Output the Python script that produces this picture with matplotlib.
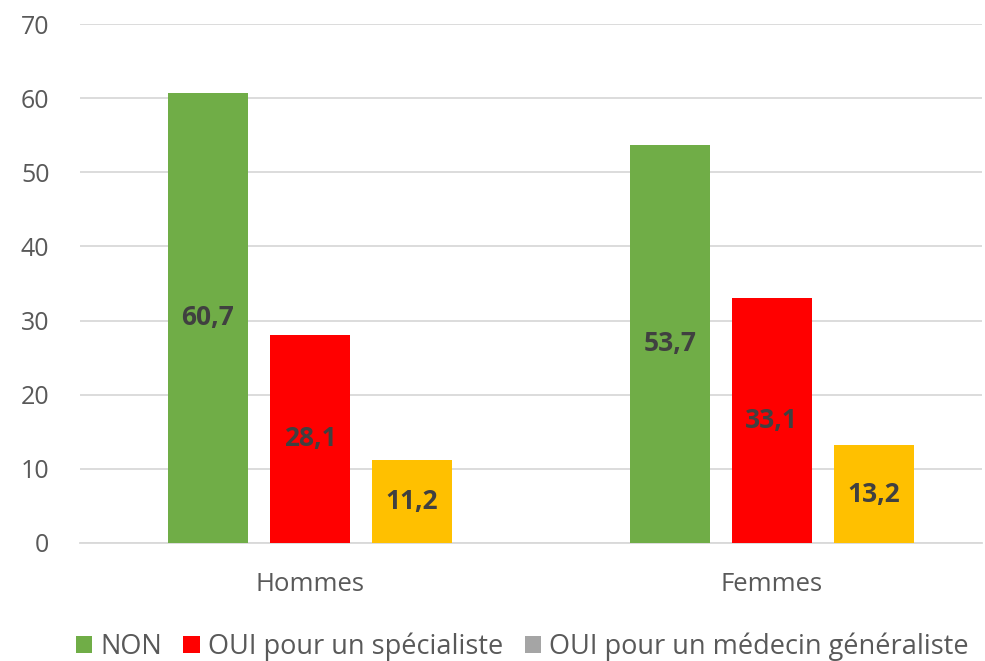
import numpy as np
import matplotlib.pyplot as plt
from matplotlib.patches import Patch

plt.rcParams['font.family'] = ['Open Sans', 'DejaVu Sans']

categories = ['Hommes', 'Femmes']
series = ['NON', 'OUI pour un spécialiste', 'OUI pour un médecin généraliste']
non = [60.7, 53.7]
oui_spec = [28.1, 33.1]
oui_gen = [11.2, 13.2]

bar_colors = ['#70AD47', '#FF0000', '#FFC000']
legend_colors = ['#70AD47', '#FF0000', '#A5A5A5']

fig = plt.figure(figsize=(9.85, 6.61), dpi=100)
ax = fig.add_axes([80 / 985, 1 - 543 / 661, 902 / 985, (543 - 24) / 661])

x = np.arange(len(categories))
width = 0.173
step = 0.221
for i, (vals, col) in enumerate(zip([non, oui_spec, oui_gen], bar_colors)):
    bars = ax.bar(x + (i - 1) * step, vals, width, color=col, zorder=3)
    for b, v in zip(bars, vals):
        ax.text(b.get_x() + b.get_width() / 2, v / 2, f'{v:.1f}'.replace('.', ','),
                ha='center', va='center', fontsize=19, fontweight='bold',
                color='#404040', zorder=4)

ax.set_xlim(-0.498, 0.455 + 1)
ax.set_ylim(0, 70)
ax.set_yticks(range(0, 71, 10))
ax.grid(axis='y', color='#D9D9D9', linewidth=1.3, zorder=0)
ax.set_axisbelow(True)
for s in ['top', 'right', 'left']:
    ax.spines[s].set_visible(False)
ax.spines['bottom'].set_color('#D9D9D9')
ax.spines['bottom'].set_linewidth(1.3)
ax.tick_params(axis='y', length=0, labelsize=18, labelcolor='#595959', pad=22)
ax.tick_params(axis='x', length=0, labelsize=18.5, labelcolor='#595959', pad=21)
ax.set_xticks(x)
ax.set_xticklabels(categories)

handles = [Patch(facecolor=c, label=l) for c, l in zip(legend_colors, series)]
fig.legend(handles=handles, loc='center', bbox_to_anchor=(0.53, 1 - 647 / 661),
           ncol=3, frameon=False, fontsize=19.5, labelcolor='#595959',
           handlelength=0.6, handleheight=0.6, handletextpad=0.3, columnspacing=0.8)

fig.savefig('out.png', dpi=100)
